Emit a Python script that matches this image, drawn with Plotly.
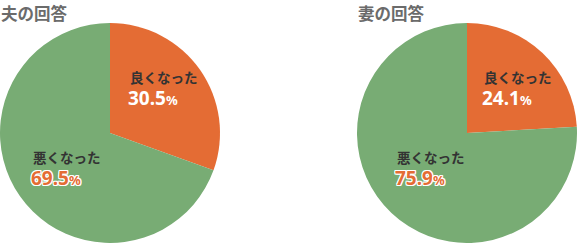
import plotly.graph_objects as go

titles = ["夫の回答", "妻の回答"]
categories = ["良くなった", "悪くなった"]
husband_values = [30.5, 69.5]
wife_values = [24.1, 75.9]

W, H = 577, 243
ORANGE = "#E46C34"
GREEN = "#78AC74"
colors = [ORANGE, GREEN]

fig = go.Figure()
R = 110
cy = 133
centers = [110, 467]
for vals, cx in zip([husband_values, wife_values], centers):
    fig.add_trace(go.Pie(
        labels=categories, values=vals, sort=False, direction="clockwise",
        rotation=0, marker=dict(colors=colors, line=dict(width=0)),
        textinfo="none", hoverinfo="skip", showlegend=False,
        domain=dict(x=[(cx - R) / W, (cx + R) / W], y=[(H - cy - R) / H, (H - cy + R) / H]),
    ))

annotations = []
outline = "1px 1px 0 white, -1px -1px 0 white, 1px -1px 0 white, -1px 1px 0 white, 0 1px 0 white, 0 -1px 0 white, 1px 0 0 white, -1px 0 0 white"
# label anchor positions (left x, label y, number y) in pixels
label_pos = [
    [(130, 76.5, 98), (33, 156.5, 178)],
    [(484, 76.5, 98), (397, 156.5, 178)],
]
title_x = [-1, 356]
for i, vals in enumerate([husband_values, wife_values]):
    annotations.append(dict(
        x=title_x[i] / W, y=1 + 1 / H, xref="paper", yref="paper", xanchor="left", yanchor="top",
        text="<b>" + titles[i] + "</b>", showarrow=False,
        font=dict(family="Noto Sans CJK JP", size=16.5, color="#6b6b6b"),
    ))
    for j, (cat, v) in enumerate(zip(categories, vals)):
        lx, ly, ny = label_pos[i][j]
        annotations.append(dict(
            x=(lx - 1) / W, y=1 - ly / H, xref="paper", yref="paper", xanchor="left", yanchor="middle",
            text="<b>" + cat + "</b>", showarrow=False, borderpad=0,
            font=dict(family="Noto Sans CJK JP", size=13.5, color="#333333"),
        ))
        numcolor = "white" if j == 0 else ORANGE
        annotations.append(dict(
            x=(lx - 3) / W, y=1 - ny / H, xref="paper", yref="paper", xanchor="left", yanchor="middle",
            text="<b>%.1f<span style='font-size:13px'>%%</span></b>" % v, showarrow=False, borderpad=0,
            font=dict(family="Noto Sans", size=19, color=numcolor, shadow=outline if j == 1 else "none"),
        ))

fig.update_layout(
    width=W, height=H, margin=dict(l=0, r=0, t=0, b=0),
    paper_bgcolor="white", plot_bgcolor="white",
    annotations=annotations,
)
fig.write_html("out.html")
